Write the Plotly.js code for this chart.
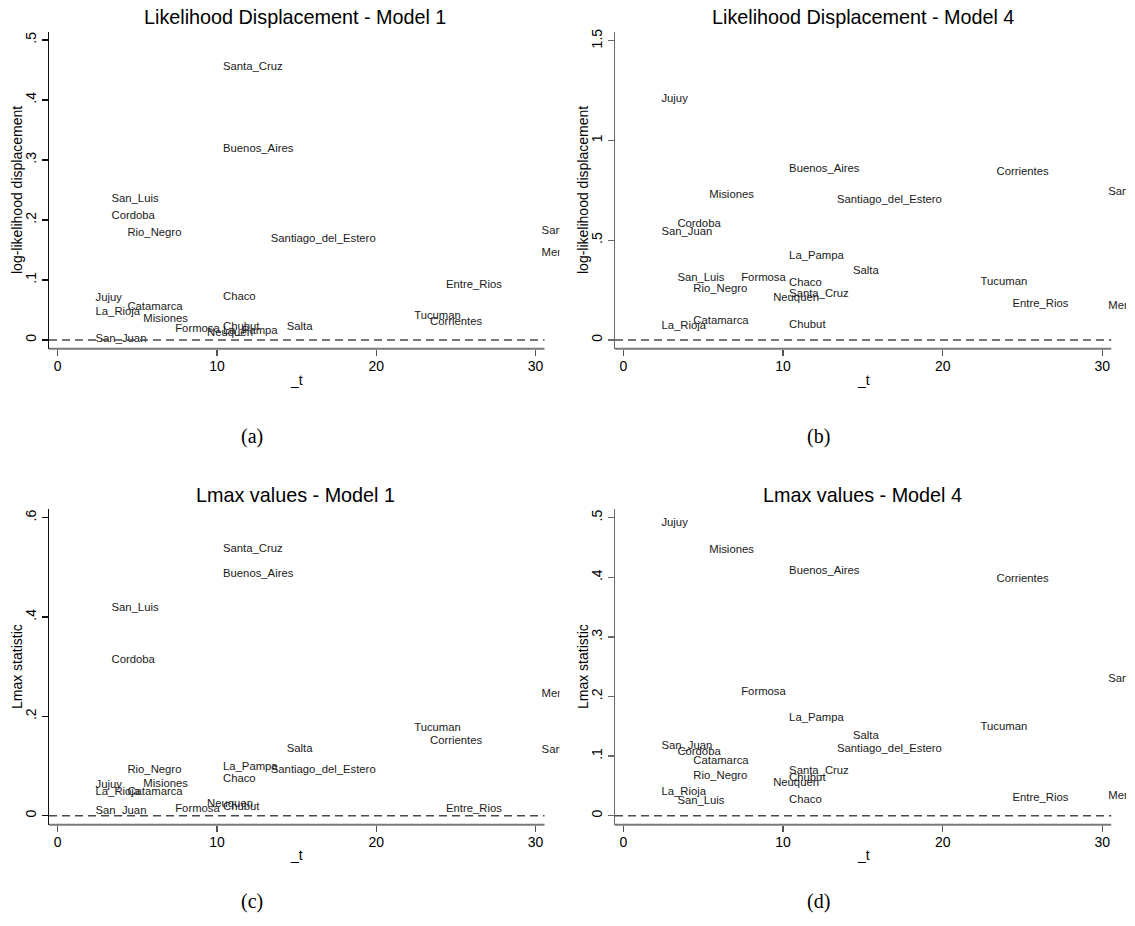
<!DOCTYPE html>
<html>
<head>
<meta charset="utf-8">
<script src="https://cdn.plot.ly/plotly-3.0.1.min.js"></script>
<style>
html,body{margin:0;padding:0;background:#ffffff;}
#chart{width:1135px;height:926px;}
</style>
</head>
<body>
<div id="chart"></div>
<script>
// ---------------- DATA ----------------
const provinces = ["Buenos_Aires","Catamarca","Chaco","Chubut","Cordoba","Corrientes","Entre_Rios","Formosa","Jujuy","La_Pampa","La_Rioja","Mendoza","Misiones","Neuquen","Rio_Negro","Salta","San_Juan","San_Luis","Santa_Cruz","Santa_Fe","Santiago_del_Estero","Tucuman"];
const tValues   = [10, 4, 10, 10, 3, 23, 24, 7, 2, 10, 2, 30, 5, 9, 4, 14, 2, 3, 10, 30, 13, 22];
// (a) log-likelihood displacement, Model 1
const ldModel1  = [0.318, 0.054, 0.071, 0.021, 0.207, 0.0295, 0.091, 0.018, 0.070, 0.015, 0.046, 0.145, 0.0345, 0.0115, 0.178, 0.022, 0.001, 0.235, 0.455, 0.181, 0.168, 0.0395];
// (b) log-likelihood displacement, Model 4
const ldModel4  = [0.857, 0.095, 0.285, 0.075, 0.579, 0.842, 0.180, 0.309, 1.208, 0.421, 0.069, 0.171, 0.725, 0.211, 0.255, 0.347, 0.542, 0.309, 0.232, 0.743, 0.700, 0.292];
// (c) Lmax statistic, Model 1
const lmaxModel1 = [0.486, 0.047, 0.073, 0.017, 0.314, 0.150, 0.013, 0.013, 0.062, 0.097, 0.048, 0.245, 0.063, 0.023, 0.092, 0.134, 0.009, 0.418, 0.537, 0.132, 0.091, 0.176];
// (d) Lmax statistic, Model 4
const lmaxModel4 = [0.410, 0.091, 0.0257, 0.0626, 0.107, 0.397, 0.030, 0.2067, 0.4916, 0.163, 0.040, 0.0335, 0.445, 0.054, 0.067, 0.133, 0.116, 0.025, 0.075, 0.2285, 0.112, 0.148];

const panelTitles = ["Likelihood Displacement - Model 1","Likelihood Displacement - Model 4","Lmax values - Model 1","Lmax values - Model 4"];
const yAxisTitles = ["log-likelihood displacement","log-likelihood displacement","Lmax statistic","Lmax statistic"];
const xAxisTitle = "_t";
const captions = ["(a)","(b)","(c)","(d)"];
const xTickVals = [0, 10, 20, 30];
const xTickText = ["0","10","20","30"];
const yTickValsA = [0, 0.1, 0.2, 0.3, 0.4, 0.5];
const yTickTextA = ["0",".1",".2",".3",".4",".5"];
const yTickValsB = [0, 0.5, 1, 1.5];
const yTickTextB = ["0",".5","1","1.5"];
const yTickValsC = [0, 0.2, 0.4, 0.6];
const yTickTextC = ["0",".2",".4",".6"];
const yTickValsD = [0, 0.1, 0.2, 0.3, 0.4, 0.5];
const yTickTextD = ["0",".1",".2",".3",".4",".5"];
const xAxisEnd = 30.56;

// ---------------- LAYOUT GEOMETRY (pixels) ----------------
const W = 1135, H = 926;
const SANS = "Liberation Sans, Arial, Helvetica, sans-serif";
const SERIF = "Liberation Serif, Times New Roman, serif";

const panels = [
  {vals: ldModel1,  tv: yTickValsA, tt: yTickTextA, left: 49,  right: 559.5, top: 31.7,  bottom: 348.7, x0: 57.7,  xs: 15.93, y0: 340,   ys: 600,   ylc: "#111111", titleX: 295,   titleY: 17,  tX: 296.7, tY: 380, yTX: 17,  yTY: 190, capX: 252, capY: 436},
  {vals: ldModel4,  tv: yTickValsB, tt: yTickTextB, left: 615, right: 1126,  top: 31.7,  bottom: 348.7, x0: 623.5, xs: 15.96, y0: 340,   ys: 199.5, ylc: "#6a6a6a", titleX: 862.7, titleY: 17,  tX: 863,   tY: 380, yTX: 583, yTY: 190, capX: 818, capY: 436},
  {vals: lmaxModel1,tv: yTickValsC, tt: yTickTextC, left: 49,  right: 559.5, top: 509.3, bottom: 824.7, x0: 57.7,  xs: 15.93, y0: 815.7, ys: 496.7, ylc: "#111111", titleX: 295.7, titleY: 495, tX: 296.4, tY: 855, yTX: 17,  yTY: 667, capX: 252, capY: 901},
  {vals: lmaxModel4,tv: yTickValsD, tt: yTickTextD, left: 615, right: 1126,  top: 509.3, bottom: 824.7, x0: 623.5, xs: 15.96, y0: 815.7, ys: 596,   ylc: "#6a6a6a", titleX: 862.6, titleY: 495, tX: 863,   tY: 855, yTX: 583, yTY: 667, capX: 818, capY: 901}
];

const traces = [];
const layout = {
  width: W, height: H,
  margin: {l: 0, r: 0, t: 0, b: 0, pad: 0},
  paper_bgcolor: "#ffffff",
  plot_bgcolor: "rgba(0,0,0,0)",
  showlegend: false,
  font: {family: SANS, color: "#000000", size: 14},
  shapes: [],
  annotations: []
};

panels.forEach((p, i) => {
  const n = i === 0 ? "" : String(i + 1);
  const xName = "x" + n, yName = "y" + n;
  const xRange = [(p.left - p.x0) / p.xs, (p.right - p.x0) / p.xs];
  const yRange = [(p.y0 - p.bottom) / p.ys, (p.y0 - p.top) / p.ys];

  traces.push({
    type: "scatter",
    mode: "markers+text",
    x: tValues,
    y: p.vals,
    text: provinces,
    textposition: "middle right",
    textfont: {family: SANS, size: 11.3, color: "#1a1a1a"},
    marker: {size: 8, color: "rgba(0,0,0,0)", line: {width: 0}},
    cliponaxis: true,
    hoverinfo: "skip",
    xaxis: xName, yaxis: yName
  });

  layout["xaxis" + n] = {
    domain: [p.left / W, p.right / W],
    anchor: yName,
    range: xRange,
    showgrid: false, zeroline: false, showline: false,
    ticks: "outside", ticklen: 6, tickwidth: 1.3, tickcolor: "#555555",
    tickvals: xTickVals, ticktext: xTickText,
    ticklabelstandoff: -2,
    tickfont: {family: SANS, size: 14, color: "#000000"},
    fixedrange: true
  };
  layout["yaxis" + n] = {
    domain: [1 - p.bottom / H, 1 - p.top / H],
    anchor: xName,
    range: yRange,
    showgrid: false, zeroline: false,
    showline: true, linecolor: p.ylc, linewidth: 1.4,
    ticks: "outside", ticklen: 6, tickwidth: 1.3, tickcolor: p.ylc,
    tickvals: p.tv, ticktext: p.tt, tickangle: -90,
    tickfont: {family: SANS, size: 14, color: "#000000"},
    fixedrange: true
  };

  // x axis line (ends at the Stata plot region edge)
  layout.shapes.push({
    type: "line", xref: xName, yref: yName + " domain",
    x0: xRange[0], x1: xAxisEnd, y0: 0, y1: 0,
    line: {color: "#7a7a7a", width: 2}, layer: "above"
  });
  // dashed reference line at zero
  layout.shapes.push({
    type: "line", xref: xName, yref: yName,
    x0: xRange[0], x1: xAxisEnd, y0: 0, y1: 0,
    line: {color: "#4a4a4a", width: 1.4, dash: "8px,5px"}, layer: "above"
  });

  layout.annotations.push({
    text: panelTitles[i], xref: "paper", yref: "paper",
    x: p.titleX / W, y: 1 - p.titleY / H, xanchor: "center", yanchor: "middle",
    showarrow: false, font: {family: SANS, size: 19.8, color: "#000000"}
  });
  layout.annotations.push({
    text: xAxisTitle, xref: "paper", yref: "paper",
    x: p.tX / W, y: 1 - p.tY / H, xanchor: "center", yanchor: "middle",
    showarrow: false, font: {family: SANS, size: 14, color: "#000000"}
  });
  layout.annotations.push({
    text: yAxisTitles[i], xref: "paper", yref: "paper",
    x: p.yTX / W, y: 1 - p.yTY / H, xanchor: "center", yanchor: "middle",
    textangle: -90,
    showarrow: false, font: {family: SANS, size: 14, color: "#000000"}
  });
  layout.annotations.push({
    text: captions[i], xref: "paper", yref: "paper",
    x: p.capX / W, y: 1 - p.capY / H, xanchor: "center", yanchor: "middle",
    showarrow: false, font: {family: SERIF, size: 20, color: "#000000"}
  });
});

Plotly.newPlot("chart", traces, layout, {staticPlot: true, displayModeBar: false});
</script>
</body>
</html>
